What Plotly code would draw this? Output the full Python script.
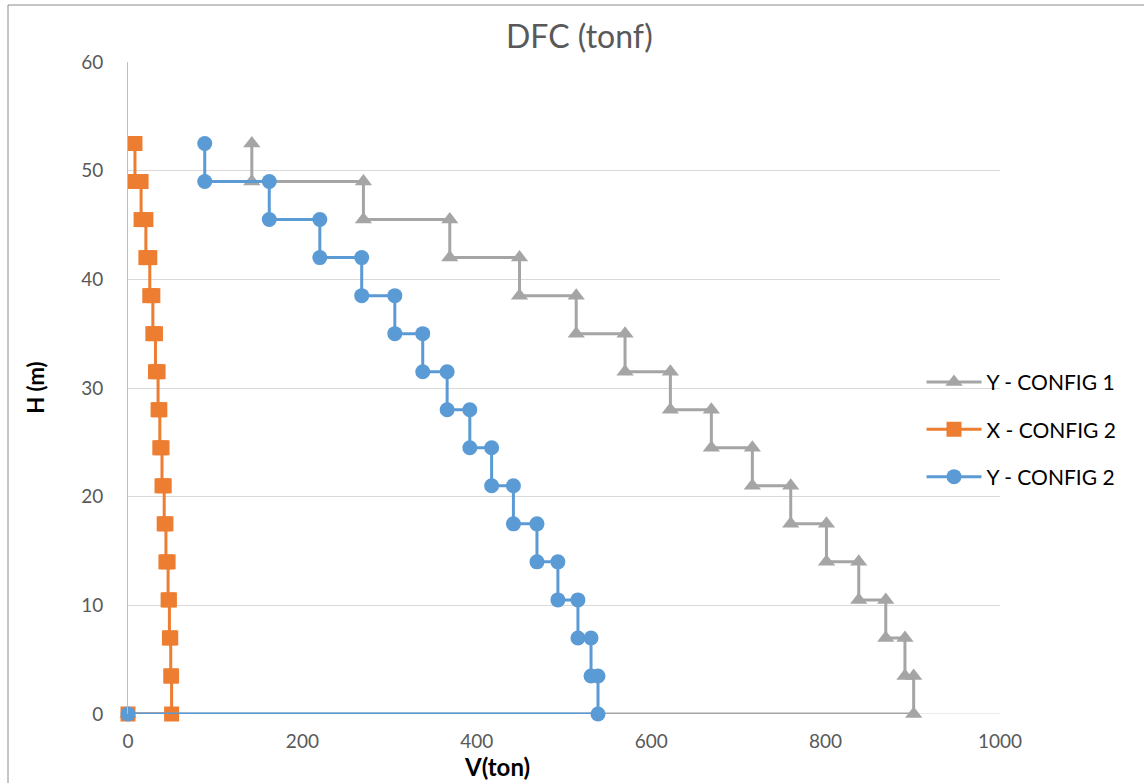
import plotly.graph_objects as go

# Floor levels (m), top to bottom
heights = [52.5, 49, 45.5, 42, 38.5, 35, 31.5, 28, 24.5, 21, 17.5, 14, 10.5, 7, 3.5, 0]

# Storey shear (ton) for each storey, top storey first
shear_y_config1 = [142, 270, 369, 449, 514, 570, 622, 669, 716, 760, 801, 838, 869, 891, 901]
shear_x_config2 = [8, 15, 20.5, 25, 28.5, 31.5, 34.5, 36.5, 39, 41.5, 43.5, 46, 47.5, 49, 50]
shear_y_config2 = [88, 162, 220, 268, 306, 338, 366, 392, 417, 442, 469, 493, 516, 531, 539]

series_names = ["Y - CONFIG 1", "X - CONFIG 2", "Y - CONFIG 2"]
series_colors = ["#A5A5A5", "#ED7D31", "#5B9BD5"]
series_symbols = ["triangle-up", "square", "circle"]
series_sizes = [15, 15, 15]

FONT = "Lato, 'Open Sans', sans-serif"


def step_profile(shears, levels):
    """Build the stepped shear diagram: constant shear within each storey."""
    xs, ys = [], []
    for k, v in enumerate(shears):
        xs += [v, v]
        ys += [levels[k], levels[k + 1]]
    xs.append(0)
    ys.append(levels[-1])
    return xs, ys


fig = go.Figure()
for i, shears in enumerate([shear_y_config1, shear_x_config2, shear_y_config2]):
    xs, ys = step_profile(shears, heights)
    fig.add_trace(go.Scatter(
        x=xs, y=ys, mode="lines+markers", name=series_names[i],
        legendgroup=series_names[i],
        line=dict(color=series_colors[i], width=3),
        marker=dict(symbol=series_symbols[i], size=series_sizes[i], color=series_colors[i]),
        cliponaxis=False,
    ))

fig.update_layout(
    width=1144, height=783,
    margin=dict(l=128, r=144, t=62, b=69),
    paper_bgcolor="white", plot_bgcolor="white",
    font=dict(family=FONT, color="#595959"),
    showlegend=True,
    legend=dict(
        x=0.91, y=0.54, xanchor="left", yanchor="top",
        bgcolor="rgba(0,0,0,0)", tracegroupgap=17,
        font=dict(size=21, color="#000000", family=FONT),
        itemwidth=55,
    ),
    xaxis=dict(
        range=[0, 1000], tickvals=[0, 200, 400, 600, 800, 1000],
        showgrid=False, zeroline=False, showline=False,
        tickfont=dict(size=19, color="#595959"), ticks="", ticklabelstandoff=14,
    ),
    yaxis=dict(
        range=[0, 60], tickvals=[0, 10, 20, 30, 40, 50, 60],
        showgrid=True, gridcolor="#D9D9D9", gridwidth=1,
        zeroline=False, showline=True, linecolor="#BFBFBF", linewidth=1,
        tickfont=dict(size=19, color="#595959"), ticks="", ticklabelstandoff=20,
    ),
    shapes=[
        # chart frame
        dict(type="rect", xref="paper", yref="paper",
             x0=-0.1376, x1=1.3, y0=-0.3, y1=1.0874,
             line=dict(color="#8C8C8C", width=1), layer="below"),
        # horizontal baseline at H = 0
        dict(type="line", xref="paper", yref="y", x0=0, x1=1, y0=0, y1=0,
             line=dict(color="#D9D9D9", width=1), layer="below"),
    ],
    annotations=[
        dict(text="DFC (tonf)", xref="paper", yref="paper", x=0.518, y=1.04,
             xanchor="center", yanchor="middle", showarrow=False,
             font=dict(size=32, color="#595959", family=FONT)),
        dict(text="<b>H (m)</b>", xref="paper", yref="paper", x=-0.107, y=0.5,
             xanchor="center", yanchor="middle", showarrow=False, textangle=-90,
             font=dict(size=22, color="#000000", family=FONT)),
        dict(text="<b>V(ton)</b>", xref="paper", yref="paper", x=0.423, y=-0.08,
             xanchor="center", yanchor="middle", showarrow=False,
             font=dict(size=24, color="#000000", family=FONT)),
    ],
)

fig.write_html("out.html")
